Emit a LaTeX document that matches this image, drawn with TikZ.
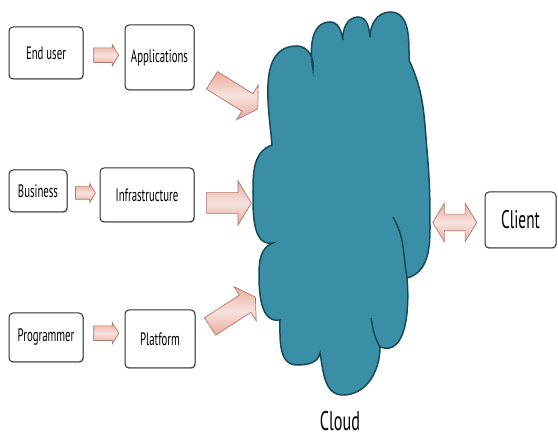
\documentclass[tikz,border=0pt]{standalone}
\usepackage{fontspec}
\setmainfont[FakeStretch=0.6]{PT Sans}
\usetikzlibrary{positioning,shapes.arrows,shadows,calc}
\definecolor{cloudteal}{RGB}{58,143,166}
\definecolor{cloudedge}{RGB}{22,74,88}
\definecolor{arrowpink}{RGB}{232,172,158}
\definecolor{arrowedge}{RGB}{176,120,106}
\definecolor{boxedge}{RGB}{45,45,45}

\begin{document}
\begin{tikzpicture}[x=1pt, y=1pt, every node/.style={font=\fontsize{18}{21}\selectfont},
  box/.style={draw=boxedge, line width=1pt, fill=white, rounded corners=4pt, inner sep=0pt,
    drop shadow={shadow xshift=1pt, shadow yshift=-1pt, opacity=.35}},
  blk/.style={single arrow, draw=arrowedge, line width=.7pt, top color=arrowpink, bottom color=arrowpink,
    middle color=arrowpink!35, inner xsep=0pt, single arrow tip angle=118, single arrow head indent=0pt},
  smallblk/.style={blk, minimum height=25, inner ysep=7, single arrow head extend=3.5},
  bigblk/.style={blk, minimum height=54, inner ysep=10, single arrow head extend=10}]
  \useasboundingbox (0,0) rectangle (558,443);
  % left column
  \node[box, minimum width=74, minimum height=52] (eu) at (46,390) {End user};
  \node[box, minimum width=69, minimum height=65] (app) at (159.5,385.5) {Applications};
  \node[box, minimum width=58, minimum height=42] (bus) at (38,252) {Business};
  \node[box, minimum width=94, minimum height=54] (inf) at (147,248) {Infrastructure};
  \node[box, minimum width=74, minimum height=49] (prog) at (46,105.5) {Programmer};
  \node[box, minimum width=70, minimum height=58] (plat) at (160,104) {Platform};
  \node[box, minimum width=71, minimum height=56, font=\fontsize{25.5}{30}\selectfont] (cli) at (520.5,223) {Client};
  % cloud
  \draw[fill=cloudteal, draw=cloudedge, line width=1.5pt]
    (272,298) to[out=95,in=180] (297,397) to[out=0,in=80] (313,373)
    to[out=100,in=180] (330,421) to[out=0,in=100] (343,403)
    to[out=95,in=180] (358,426) to[out=0,in=95] (370,406)
    to[out=90,in=180] (390,431) to[out=0,in=90] (409,383)
    to[out=-65,in=95] (427,293) to[out=-85,in=90] (430,215) to[out=-90,in=15] (407,165)
    to[out=-85,in=-20] (380,96)
    to[out=-90,in=0] (343,48) to[out=180,in=-80] (320,90)
    to[out=-100,in=0] (297,78) to[out=180,in=-90] (280,123)
    to[out=190,in=-90] (259,168) to[out=90,in=200] (273,200)
    to[out=190,in=-90] (253,248) to[out=90,in=-160] (272,298) -- cycle;
  \draw[cloudedge, line width=1.5pt] (393,226) to[out=-60,in=100] (407,165);
  \draw[cloudedge, line width=1.5pt] (380,96) to[out=120,in=-80] (371,125);
  \node[font=\fontsize{27}{32}\selectfont] (lbl) at (340,22) {Cloud};
  \coordinate (capp) at (270,314.5);
  \coordinate (cinf) at (257,232);
  \coordinate (cplat) at (268,150);
  \coordinate (ccli) at (425,218);
  % arrows
  \node[smallblk] (a1) at ($(eu.east)!.5!(app.west)$) {};
  \node[smallblk, minimum height=20, inner ysep=6, single arrow head extend=3] (a2) at ($(bus.east)!.5!(inf.west)$) {};
  \node[smallblk, yshift=5] (a3) at ($(prog.east)!.5!(plat.west)$) {};
  \node[bigblk, rotate=-32] (b1) at ($(app.east)!.5!(capp)$) {};
  \node[bigblk, minimum height=45, single arrow head extend=12] (b2) at ($(inf.east)!.5!(cinf)$) {};
  \node[bigblk, rotate=33, yshift=3] (b3) at ($(plat.east)!.5!(cplat)$) {};
  \node[double arrow, draw=arrowedge, line width=.7pt, top color=arrowpink, bottom color=arrowpink,
    middle color=arrowpink!35, inner xsep=0pt, minimum height=44, inner ysep=8, double arrow head extend=11,
    double arrow tip angle=118, double arrow head indent=0pt] (d1) at ($(cli.west)!.5!(ccli)$) {};
\end{tikzpicture}
\end{document}
